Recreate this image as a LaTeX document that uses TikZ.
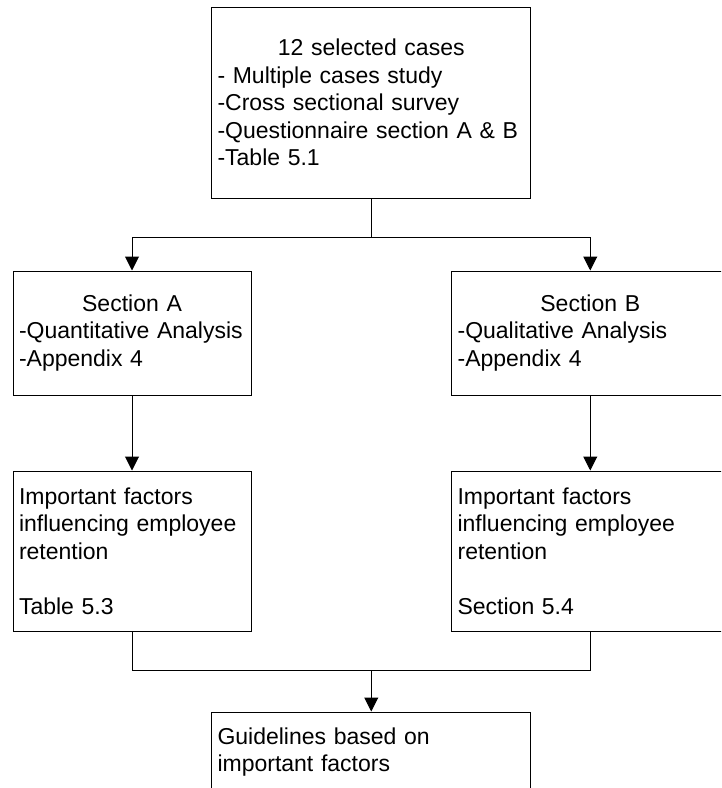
\documentclass[tikz,border=0pt]{standalone}
\usepackage{fontspec}
\setmainfont{Liberation Sans}
\usetikzlibrary{arrows.meta}

\tikzset{
  box/.style={draw, line width=0.75pt, align=left, inner xsep=4.5pt, inner ysep=0pt,
    font=\fontsize{17.25}{20.6}\selectfont},
  flow/.style={line width=0.75pt, -{Triangle[width=10.5pt,length=10.5pt]}}
}

\begin{document}
\begin{tikzpicture}[x=0.75pt, y=-0.75pt]
        \clip (0,0) rectangle (721,788);
        \node[box, text width=230.6pt, minimum height=143pt] (cases) at (371.25,102.7)
            {\makebox[\linewidth]{12 selected cases}\\- Multiple cases study\\-Cross sectional survey\\-Questionnaire section A \& B\\-Table 5.1};
        \node[box, text width=169.5pt, minimum height=93pt] (secA) at (132,333)
            {\makebox[\linewidth]{Section A}\\-Quantitative Analysis\\-Appendix 4};
        \node[box, text width=199pt, minimum height=93pt] (secB) at (590.25,333)
            {\makebox[\linewidth]{Section B}\\-Qualitative Analysis\\-Appendix 4};
        \node[box, text width=169.5pt, minimum height=120pt] (factA) at (132,551)
            {Important factors\\influencing employee\\retention\\[20.6pt]Table 5.3};
        \node[box, text width=199pt, minimum height=120pt] (factB) at (590.25,551)
            {Important factors\\influencing employee\\retention\\[20.6pt]Section 5.4};
        \node[box, text width=230.6pt, minimum height=60pt] (guide) at (371.25,752)
            {Guidelines based on\\important factors};
        \coordinate (split) at (371.25,237);
        \coordinate (join) at (371.25,670);
        \draw[line width=0.75pt] (cases) -- (split);
        \draw[flow] (split) -| (secA.north);
        \draw[flow] (split) -| (secB.north);
        \draw[flow] (secA) -- (factA);
        \draw[flow] (secB) -- (factB);
        \draw[line width=0.75pt] (factA.south) |- (join);
        \draw[line width=0.75pt] (factB.south) |- (join);
        \draw[flow] (join) -- (guide.north);
    \end{tikzpicture}
\end{document}
